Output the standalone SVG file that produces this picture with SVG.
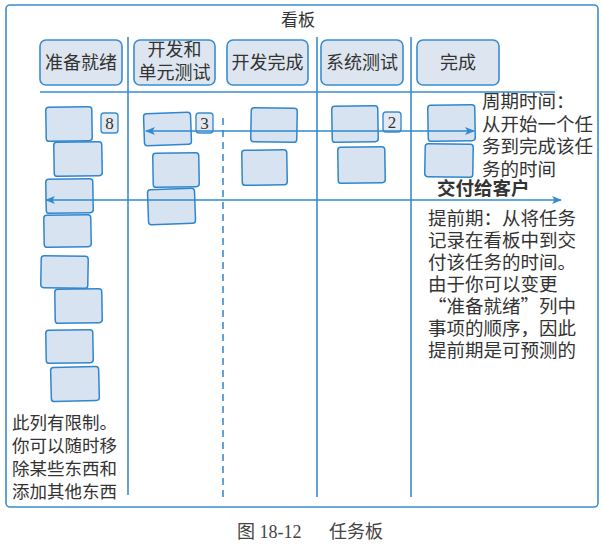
<svg xmlns="http://www.w3.org/2000/svg" width="603" height="546" viewBox="0 0 603 546">
<style>
.ln{stroke:#3a8dd0;stroke-width:1.6;fill:none}
.dash{stroke:#3a8dd0;stroke-width:1.6;fill:none;stroke-dasharray:7 5}
.hdr{fill:#dde6f0;stroke:#3a8dd0;stroke-width:1.6}
.card{fill:#d8e3f2;stroke:#2f86cc;stroke-width:1.5}
.num{fill:#e2e9f2;stroke:#3a8dd0;stroke-width:1.4}
.t{font-family:"Noto Sans CJK SC","Noto Sans",sans-serif;fill:#333}
.ht{font-size:18px;text-anchor:middle}
.nt{font-family:"Liberation Serif","Noto Sans CJK SC",serif;font-size:17px;fill:#333;text-anchor:middle}
.arr{stroke:#2f8ad0;stroke-width:1.5;fill:none;marker-start:url(#ah);marker-end:url(#ah)}
</style>
<defs>
<marker id="ah" viewBox="0 0 10 8" refX="9" refY="4" markerWidth="10" markerHeight="8" markerUnits="userSpaceOnUse" orient="auto-start-reverse">
<path d="M0,0 L10,4 L0,8 L2.5,4 Z" fill="#2f8ad0"/>
</marker>
</defs>
<rect width="603" height="546" fill="#ffffff"/>
<g id="board">
<rect x="6" y="5" width="592" height="502" rx="4" class="ln"/>
<text class="t" x="298" y="26" font-size="17" text-anchor="middle">看板</text>
<line x1="40" y1="92" x2="555" y2="92" class="ln"/>
<line x1="128" y1="37" x2="128" y2="495" class="ln"/>
<line x1="223" y1="118" x2="223" y2="497" class="dash"/>
<line x1="317" y1="37" x2="317" y2="497" class="ln"/>
<line x1="411" y1="37" x2="411" y2="497" class="ln"/>
</g>
<g id="header-ready"><rect x="40" y="40" width="82" height="45" rx="6" class="hdr"/><text class="t ht" x="81" y="69">准备就绪</text></g>
<g id="header-dev"><rect x="134" y="40" width="81" height="45" rx="6" class="hdr"/><text class="t ht" x="174.5" y="56">开发和</text><text class="t ht" x="174.5" y="79">单元测试</text></g>
<g id="header-devdone"><rect x="227" y="40" width="81" height="45" rx="6" class="hdr"/><text class="t ht" x="267.5" y="69">开发完成</text></g>
<g id="header-systest"><rect x="321" y="40" width="82" height="45" rx="6" class="hdr"/><text class="t ht" x="362" y="69">系统测试</text></g>
<g id="header-done"><rect x="417" y="40" width="82" height="45" rx="6" class="hdr"/><text class="t ht" x="458" y="69">完成</text></g>
<g id="cards-ready">
<rect x="46" y="107" width="46" height="34" rx="3" class="card" transform="rotate(-1 69 124)"/>
<rect x="54" y="142" width="48" height="34" rx="3" class="card" transform="rotate(-1 78 159)"/>
<rect x="46" y="179" width="47" height="34" rx="3" class="card" transform="rotate(-1 69 196)"/>
<rect x="44" y="215" width="47" height="32" rx="3" class="card" transform="rotate(-1 67 231)"/>
<rect x="41" y="256" width="47" height="32" rx="3" class="card" transform="rotate(1 64 272)"/>
<rect x="55" y="289" width="47" height="34" rx="3" class="card" transform="rotate(-1 78 306)"/>
<rect x="46" y="330" width="47" height="33" rx="3" class="card" transform="rotate(-1 69 346)"/>
<rect x="51" y="367" width="48" height="34" rx="3" class="card" transform="rotate(-1.5 75 384)"/>
</g>
<g id="limit-8"><rect x="101" y="113" width="17" height="20" rx="3" class="num"/><text class="nt" x="109.5" y="129">8</text></g>
<g id="cards-dev">
<rect x="144" y="113" width="47" height="32" rx="3" class="card" transform="rotate(-2 167 129)"/>
<rect x="153" y="153" width="46" height="34" rx="3" class="card" transform="rotate(-1 176 170)"/>
<rect x="148" y="189" width="47" height="35" rx="3" class="card" transform="rotate(-2 171 206)"/>
</g>
<g id="limit-3"><rect x="196" y="113" width="17" height="20" rx="3" class="num"/><text class="nt" x="204.5" y="129">3</text></g>
<g id="cards-devdone">
<rect x="251" y="108" width="46" height="34" rx="3" class="card" transform="rotate(1 274 125)"/>
<rect x="242" y="150" width="45" height="35" rx="3" class="card" transform="rotate(-1 264 167)"/>
</g>
<g id="cards-systest">
<rect x="332" y="106" width="46" height="36" rx="3" class="card" transform="rotate(-1 355 124)"/>
<rect x="338" y="147" width="47" height="36" rx="3" class="card" transform="rotate(-1 361 165)"/>
</g>
<g id="limit-2"><rect x="383" y="112" width="18" height="20" rx="3" class="num"/><text class="nt" x="392" y="128">2</text></g>
<g id="cards-done">
<rect x="428" y="105" width="47" height="36" rx="3" class="card" transform="rotate(-1 451 123)"/>
<rect x="425" y="144" width="48" height="33" rx="3" class="card" transform="rotate(1 449 160)"/>
</g>
<g id="connectors">
<line x1="146" y1="131" x2="474" y2="131" class="arr"/>
<line x1="46" y1="200" x2="561" y2="200" class="arr"/>
</g>
<g id="note-cycle">
<text class="t" font-size="18.5" x="482" y="108">周期时间：</text>
<text class="t" font-size="18.5" x="482" y="130.5">从开始一个任</text>
<text class="t" font-size="18.5" x="482" y="153">务到完成该任</text>
<text class="t" font-size="18.5" x="482" y="175.5">务的时间</text>
</g>
<g id="label-deliver"><text class="t" font-size="18.5" font-weight="bold" x="437" y="194.5">交付给客户</text></g>
<g id="note-lead">
<text class="t" font-size="18.5" x="428" y="224.5">提前期：从将任务</text>
<text class="t" font-size="18.5" x="428" y="246.5">记录在看板中到交</text>
<text class="t" font-size="18.5" x="428" y="268.5">付该任务的时间。</text>
<text class="t" font-size="18.5" x="428" y="290.5">由于你可以变更</text>
<text class="t" font-size="18.5" x="428" y="312.5">“准备就绪”列中</text>
<text class="t" font-size="18.5" x="428" y="334.5">事项的顺序，因此</text>
<text class="t" font-size="18.5" x="428" y="356.5">提前期是可预测的</text>
</g>
<g id="note-limit">
<text class="t" font-size="17.5" x="12" y="429">此列有限制。</text>
<text class="t" font-size="17.5" x="12" y="452">你可以随时移</text>
<text class="t" font-size="17.5" x="12" y="475">除某些东西和</text>
<text class="t" font-size="17.5" x="12" y="498">添加其他东西</text>
</g>
<g id="caption">
<text font-family="Liberation Serif,'Noto Sans CJK SC',serif" font-size="18" fill="#444" x="237" y="538">图 18-12</text>
<text font-family="'Noto Sans CJK SC',serif" font-size="18" fill="#444" x="383" y="538" text-anchor="end">任务板</text>
</g>
</svg>
